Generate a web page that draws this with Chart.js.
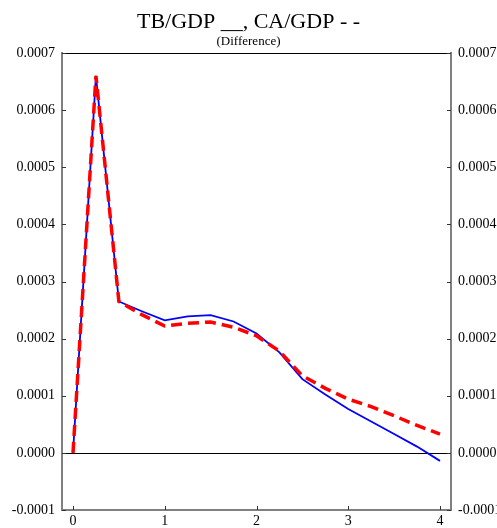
<!DOCTYPE html>
<html>
<head>
<meta charset="utf-8">
<script src="https://cdn.jsdelivr.net/npm/chart.js@4/dist/chart.umd.min.js"></script>
<style>
html,body{margin:0;padding:0;background:#fff;}
#wrap{width:497px;height:528px;position:relative;}
</style>
</head>
<body>
<div id="wrap"><canvas id="c" width="497" height="528"></canvas></div>
<script>
const titleText = "TB/GDP __, CA/GDP - -";
const subtitleText = "(Difference)";
const quarters = [0,0.25,0.5,0.75,1,1.25,1.5,1.75,2,2.25,2.5,2.75,3,3.25,3.5,3.75,4];
const tbGdp = [0,0.00066,0.000265,0.000248,0.000232,0.000239,0.000241,0.000230,0.000209,0.000176,0.000129,0.000102,0.0000767,0.000055,0.000033,0.000011,-0.000014];
const caGdp = [0,0.00066,0.000265,0.000242,0.000222,0.000227,0.000229,0.000220,0.000205,0.000178,0.000135,0.000113,0.000094,0.000081,0.000065,0.000048,0.000033];
const xTicks = [0,1,2,3,4];
const yTicks = [-0.0001,0,0.0001,0.0002,0.0003,0.0004,0.0005,0.0006,0.0007];

const SERIF = "'Liberation Serif', 'Times New Roman', serif";

const decor = {
  id: 'decor',
  beforeDatasetsDraw(chart) {
    const ctx = chart.ctx, a = chart.chartArea;
    const x = chart.scales.x, y = chart.scales.y;
    ctx.save();
    ctx.strokeStyle = '#000';
    ctx.lineWidth = 1;
    const y0 = Math.round(y.getPixelForValue(0)) + 0.5;
    ctx.beginPath(); ctx.moveTo(a.left, y0); ctx.lineTo(a.right, y0); ctx.stroke();
    ctx.beginPath(); ctx.moveTo(a.left, a.top + 0.5); ctx.lineTo(a.right, a.top + 0.5); ctx.stroke();
    ctx.strokeStyle = '#333';
    ctx.lineWidth = 1;
    yTicks.forEach(v => {
      const py = Math.round(y.getPixelForValue(v)) + 0.5;
      ctx.beginPath(); ctx.moveTo(a.left, py); ctx.lineTo(a.left + 4, py); ctx.stroke();
      ctx.beginPath(); ctx.moveTo(a.right - 4, py); ctx.lineTo(a.right, py); ctx.stroke();
    });
    xTicks.forEach(v => {
      const px = Math.round(x.getPixelForValue(v)) + 0.5;
      ctx.beginPath(); ctx.moveTo(px, a.bottom); ctx.lineTo(px, a.bottom - 4); ctx.stroke();
    });
    ctx.restore();
  },
  afterDraw(chart) {
    const ctx = chart.ctx;
    const cx = chart.width / 2;
    ctx.save();
    ctx.fillStyle = '#000';
    ctx.textAlign = 'center';
    ctx.textBaseline = 'alphabetic';
    ctx.font = "22px " + SERIF;
    ctx.fillText(titleText, cx, 28);
    ctx.font = "13px " + SERIF;
    ctx.fillText(subtitleText, cx, 45);
    ctx.restore();
  }
};

const tickFont = { family: SERIF, size: 14 };
const fmt = v => Number(v).toFixed(4);

new Chart(document.getElementById('c'), {
  type: 'line',
  data: {
    labels: quarters,
    datasets: [
      {
        label: 'TB/GDP',
        data: quarters.map((q, i) => ({ x: q, y: tbGdp[i] })),
        borderColor: '#0000ff',
        borderWidth: 1.8,
        pointRadius: 0,
        tension: 0,
        fill: false,
        order: 2
      },
      {
        label: 'CA/GDP',
        data: quarters.map((q, i) => ({ x: q, y: caGdp[i] })),
        borderColor: '#ff0000',
        borderWidth: 3.5,
        borderDash: [11, 6],
        pointRadius: 0,
        tension: 0,
        fill: false,
        order: 1
      }
    ]
  },
  options: {
    responsive: false,
    animation: false,
    events: [],
    layout: { padding: { top: 53, left: 0, right: 0, bottom: 0 } },
    plugins: { legend: { display: false }, tooltip: { enabled: false }, title: { display: false } },
    scales: {
      x: {
        type: 'linear',
        min: -0.12, max: 4.12,
        afterBuildTicks: s => { s.ticks = xTicks.map(v => ({ value: v })); },
        afterFit: s => { s.height = 18; },
        grid: { drawOnChartArea: false, drawTicks: false },
        border: { color: '#808080', width: 2 },
        ticks: { font: tickFont, color: '#000', padding: 3, maxRotation: 0, callback: v => String(v) }
      },
      y: {
        type: 'linear', position: 'left',
        min: -0.0001, max: 0.0007,
        afterBuildTicks: s => { s.ticks = yTicks.map(v => ({ value: v })); },
        afterFit: s => { s.width = 62; },
        grid: { drawOnChartArea: false, drawTicks: false },
        border: { color: '#808080', width: 2 },
        ticks: { font: tickFont, color: '#000', padding: 7, callback: fmt }
      },
      y2: {
        type: 'linear', position: 'right',
        min: -0.0001, max: 0.0007,
        afterBuildTicks: s => { s.ticks = yTicks.map(v => ({ value: v })); },
        afterFit: s => { s.width = 46; },
        grid: { drawOnChartArea: false, drawTicks: false },
        border: { color: '#808080', width: 2 },
        ticks: { font: tickFont, color: '#000', padding: 7, callback: fmt }
      }
    }
  },
  plugins: [decor]
});
</script>
</body>
</html>
